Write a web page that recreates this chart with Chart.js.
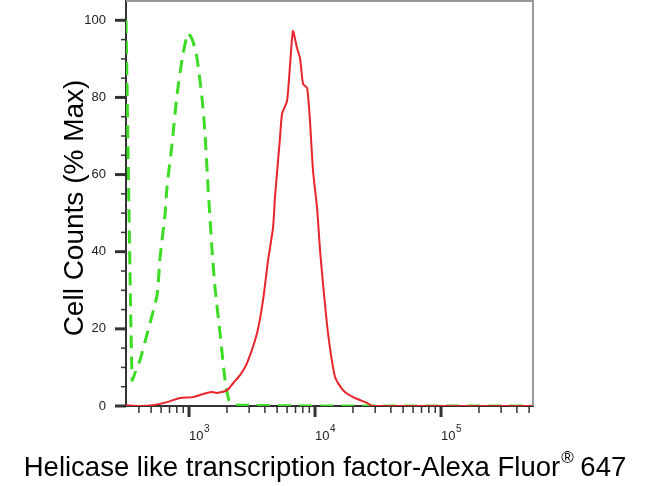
<!DOCTYPE html>
<html>
<head>
<meta charset="utf-8">
<script src="https://cdn.jsdelivr.net/npm/chart.js@4"></script>
<style>
  html, body { margin: 0; padding: 0; background: #fff; }
  #wrap { width: 650px; height: 486px; }
</style>
</head>
<body>
<div id="wrap"><canvas id="chart" width="650" height="486"></canvas></div>
<script>
// isotype control (green dashed)
const controlX = [316, 353, 372, 408, 473, 557, 589, 646, 668, 733, 804, 895, 982, 1072, 1156, 1268, 1340, 1416, 1524, 1607, 1762, 1932, 2075, 2317, 20000, 537000];
const controlY = [100, 6.7, 8.5, 11.9, 19.6, 28.7, 38.5, 49.9, 56.6, 68, 80.9, 91.2, 96.6, 94.6, 90.2, 79.8, 70.5, 56.6, 40.3, 30.7, 18.9, 6.7, 1.5, 0.3, 0, 0];

// Helicase like transcription factor stained (red)
const stainedX = [316, 408, 518, 668, 849, 1076, 1291, 1524, 1667, 2004, 2234, 2541, 2884, 3467, 3864, 4236, 4645, 4819, 5272, 5470, 5998, 6339, 6683, 7194, 7603, 8035, 8650, 9120, 9638, 10375, 10965, 11561, 12677, 14421, 16672, 20045, 25882, 28840, 537000];
const stainedY = [0.2, 0, 0.2, 1.0, 2.1, 2.3, 3.1, 3.6, 3.4, 4.1, 5.9, 8.0, 11.1, 18.9, 27.4, 37.7, 46.3, 54.5, 69.5, 75.7, 79.1, 88.6, 97.2, 92.8, 90.2, 83.5, 82.4, 73.9, 61.0, 51.4, 40.3, 31.8, 18.9, 7.5, 4.1, 2.3, 0.8, 0, 0];

const yTickValues = [0, 20, 40, 60, 80, 100];
const xDecades = [3, 4, 5];
const xMin = 316, xMax = 537000, yMax = 105;

const xTitle = 'Helicase like transcription factor-Alexa Fluor';
const yTitle = 'Cell Counts (% Max)';

const FONT = '"Liberation Sans", Arial, sans-serif';

function toPoints(xs, ys) {
    return xs.map((x, i) => ({ x: x, y: ys[i] }));
}

const decorations = {
    id: 'decorations',
    afterDatasetsDraw(chart) {
        const ctx = chart.ctx;
        const area = chart.chartArea;
        const xs = chart.scales.x;
        const ys = chart.scales.y;
        ctx.save();

        // grey box top/right
        ctx.strokeStyle = '#9a9a9a';
        ctx.lineWidth = 2;
        ctx.beginPath();
        ctx.moveTo(area.left, area.top);
        ctx.lineTo(area.right, area.top);
        ctx.lineTo(area.right, area.bottom);
        ctx.stroke();

        // y ticks
        ctx.strokeStyle = '#333';
        for (let v = 0; v <= 100; v += 5) {
            const y = ys.getPixelForValue(v);
            const major = v % 20 === 0;
            ctx.lineWidth = major ? 3 : 1.5;
            ctx.beginPath();
            ctx.moveTo(area.left - (major ? 11 : 5), y);
            ctx.lineTo(area.left, y);
            ctx.stroke();
        }

        // x ticks
        for (let d = 2; d <= 5; d++) {
            for (let m = 1; m <= 9; m++) {
                const v = m * Math.pow(10, d);
                if (v <= xMin || v > xMax) continue;
                const x = xs.getPixelForValue(v);
                const major = m === 1;
                ctx.lineWidth = major ? 3 : 1.5;
                ctx.beginPath();
                ctx.moveTo(x, area.bottom);
                ctx.lineTo(x, area.bottom + (major ? 11 : 7));
                ctx.stroke();
            }
        }

        // x tick labels 10^n
        ctx.fillStyle = '#222';
        ctx.textBaseline = 'alphabetic';
        ctx.textAlign = 'left';
        xDecades.forEach(e => {
            const x = xs.getPixelForValue(Math.pow(10, e));
            ctx.font = '13px ' + FONT;
            ctx.fillText('10', x, 440);
            const w = ctx.measureText('10').width;
            ctx.font = '10px ' + FONT;
            ctx.fillText(String(e), x + w + 0.5, 432);
        });

        // x title with superscript ®
        ctx.fillStyle = '#000';
        ctx.font = '27.5px ' + FONT;
        const w1 = ctx.measureText(xTitle).width;
        ctx.font = '17px ' + FONT;
        const wr = ctx.measureText('\u00AE').width;
        ctx.font = '27.5px ' + FONT;
        const w2 = ctx.measureText(' 647').width;
        let sx = 325 - (w1 + wr + w2) / 2;
        ctx.fillText(xTitle, sx, 476);
        ctx.font = '17px ' + FONT;
        ctx.fillText('\u00AE', sx + w1 + 1, 463);
        ctx.font = '27.5px ' + FONT;
        ctx.fillText(' 647', sx + w1 + wr, 476);

        // y title
        ctx.font = '28px ' + FONT;
        ctx.translate(83, 208);
        ctx.rotate(-Math.PI / 2);
        ctx.textAlign = 'center';
        ctx.fillText(yTitle, 0, 0);

        ctx.restore();
    }
};

new Chart(document.getElementById('chart'), {
    type: 'line',
    data: {
        datasets: [{
            label: 'Stained',
            data: toPoints(stainedX, stainedY),
            borderColor: '#e8252b',
            borderWidth: 2,
            pointRadius: 0,
            tension: 0.2
        }, {
            label: 'Isotype control',
            data: toPoints(controlX, controlY),
            borderColor: '#3ddc24',
            borderWidth: 3,
            borderDash: [13, 8],
            pointRadius: 0,
            tension: 0.2
        }]
    },
    options: {
        responsive: false,
        animation: false,
        layout: { padding: { top: 1, right: 117, left: 0, bottom: 0 } },
        plugins: { legend: { display: false }, tooltip: { enabled: false } },
        scales: {
            x: {
                type: 'logarithmic',
                min: xMin,
                max: xMax,
                grid: { display: true, drawOnChartArea: false, drawTicks: false },
                border: { display: true, color: '#333', width: 2 },
                ticks: { display: false },
                afterFit(scale) {
                    scale.height = 80;
                    scale.paddingLeft = 0; scale.paddingRight = 0;
                    scale.paddingTop = 0; scale.paddingBottom = 0;
                }
            },
            y: {
                min: 0,
                max: yMax,
                afterBuildTicks(scale) { scale.ticks = yTickValues.map(v => ({ value: v })); },
                grid: { display: true, drawOnChartArea: false, drawTicks: false },
                border: { display: true, color: '#333', width: 2 },
                ticks: {
                    padding: 20,
                    color: '#222',
                    font: { family: FONT, size: 13 }
                },
                afterFit(scale) {
                    scale.width = 126;
                    scale.paddingLeft = 0; scale.paddingRight = 0;
                    scale.paddingTop = 0; scale.paddingBottom = 0;
                }
            }
        }
    },
    plugins: [decorations]
});
</script>
</body>
</html>
